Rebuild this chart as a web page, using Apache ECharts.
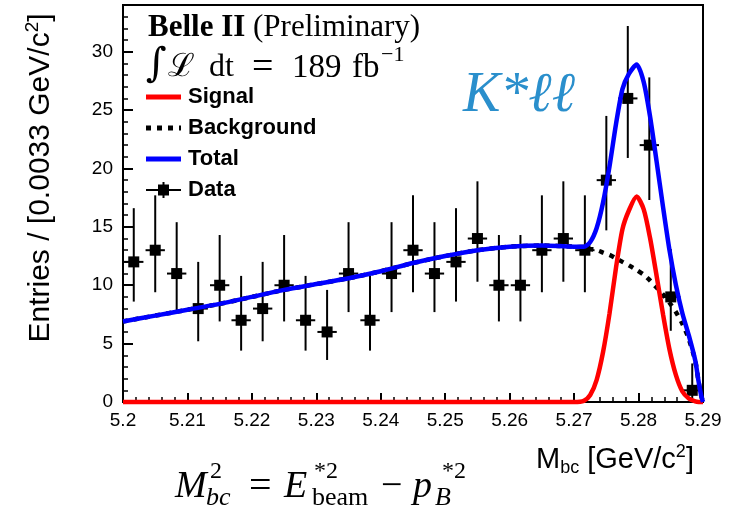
<!DOCTYPE html>
<html><head><meta charset="utf-8">
<script src="https://cdn.jsdelivr.net/npm/echarts@6/dist/echarts.min.js"></script>
<style>html,body{margin:0;padding:0;background:#fff}#c{width:753px;height:509px}</style>
</head><body><div id="c"></div>
<script>
// ---- data ----
const xMin = 5.2, xMax = 5.29, xStep = 0.01;
const yMin = 0, yMax = 34, yStep = 5;
const halfBin = 0.0015;

const binCenters = [5.20167,5.20500,5.20833,5.21167,5.21500,5.21833,5.22167,5.22500,5.22833,5.23167,
  5.23500,5.23833,5.24167,5.24500,5.24833,5.25167,5.25500,5.25833,5.26167,5.26500,
  5.26833,5.27167,5.27500,5.27833,5.28167,5.28500,5.28833];
const counts  = [12,13,11,8,10,7,8,10,7,6,11,7,11,13,11,12,14,10,10,13,14,13,19,26,22,9,1];
const errLow  = [8.6,9.4,7.7,5.2,6.9,4.4,5.2,6.9,4.4,3.6,7.7,4.4,7.7,9.4,7.7,8.6,10.3,6.9,6.9,9.4,10.3,9.4,14.7,20.9,17.3,6.1,0.2];
const errHigh = [16.6,17.7,15.4,12.0,14.3,10.8,12.0,14.3,10.8,9.6,15.4,10.8,15.4,17.7,15.4,16.6,18.9,14.3,14.3,17.7,18.9,17.7,24.5,32.2,27.8,13.1,3.3];

const curveX = [5.200,5.205,5.210,5.215,5.220,5.225,5.230,5.235,5.240,5.245,5.250,5.255,5.260,5.265,5.270,
  5.2715,5.2725,5.2735,5.2745,5.2755,5.2765,5.2775,5.2785,
  5.2797,5.2808,5.2818,5.2828,5.2838,5.2848,5.2858,5.2868,5.2878,5.2888,
  5.2893,5.2897,5.2900];
const backgroundY = [6.9,7.4,7.9,8.4,9.0,9.6,10.1,10.6,11.2,11.9,12.5,13.0,13.3,13.4,13.3,
  13.2,13.1,13.0,12.8,12.6,12.3,12.0,11.7,
  11.3,10.9,10.4,9.8,9.2,8.5,7.7,6.7,5.4,3.5,
  1.8,0.6,0];
const signalY = [0,0,0,0,0,0,0,0,0,0,0,0,0,0,0,
  0.1,0.6,1.9,4.3,7.6,11.5,14.8,16.4,
  17.6,16.5,14.0,10.8,7.5,4.5,2.3,0.9,0.3,0.05,
  0,0,0];
const totalY = [6.9,7.4,7.9,8.4,9.0,9.6,10.1,10.6,11.2,11.9,12.5,13.0,13.3,13.4,13.3,
  13.3,13.7,14.9,17.1,20.2,23.8,26.8,28.1,
  28.9,27.4,24.4,20.6,16.7,13.0,10.0,7.6,5.7,3.55,
  1.8,0.6,0];

const legendNames = ['Signal','Background','Total','Data'];

// ---- chart ----
const SANS = "'Liberation Sans', Arial, sans-serif";
const SERIF = "'Liberation Serif', 'DejaVu Serif', serif";
const pts = ys => curveX.map((x,i)=>[x, ys[i]]);
const dataPts = binCenters.map((x,i)=>[x, counts[i], errLow[i], errHigh[i]]);

const chart = echarts.init(document.getElementById('c'), null, {renderer:'canvas'});

function txt(x,y,text,font,extra){
  return {type:'text', x, y, z:100, style:Object.assign({text, font, fill:'#000', align:'left', verticalAlign:'middle'}, extra||{})};
}

const graphic = [
  // legend
  {type:'line', z:100, shape:{x1:146,y1:97,x2:181,y2:97}, style:{stroke:'#ff0000', lineWidth:5}},
  {type:'line', z:100, shape:{x1:146,y1:128,x2:181,y2:128}, style:{stroke:'#000', lineWidth:5, lineDash:[5,6]}},
  {type:'line', z:100, shape:{x1:146,y1:159,x2:181,y2:159}, style:{stroke:'#0000ff', lineWidth:5}},
  {type:'line', z:100, shape:{x1:146,y1:190,x2:181,y2:190}, style:{stroke:'#000', lineWidth:2}},
  {type:'line', z:100, shape:{x1:163.5,y1:182,x2:163.5,y2:198}, style:{stroke:'#000', lineWidth:2}},
  {type:'rect', z:100, shape:{x:158,y:184.5,width:11,height:11}, style:{fill:'#000'}},
  txt(188,97,legendNames[0],"bold 22px "+SANS),
  txt(188,128,legendNames[1],"bold 22px "+SANS),
  txt(188,159,legendNames[2],"bold 22px "+SANS),
  txt(188,190,legendNames[3],"bold 22px "+SANS),
  // header line 1
  {type:'text', x:148, y:28, z:100, style:{text:'{b|Belle II}{r| (Preliminary)}', align:'left', verticalAlign:'middle',
     rich:{b:{font:"bold 31px "+SERIF, fill:'#000'}, r:{font:"31px "+SERIF, fill:'#000'}}}},
  // header line 2: ∫ ℒ dt = 189 fb^-1
  txt(146,66,'∫',"40px 'DejaVu Serif', serif"),
  txt(168,68,'ℒ',"32px 'DejaVu Serif', serif"),
  txt(209,68,'dt',"32px "+SERIF),
  txt(252,68,'=',"38px "+SERIF),
  txt(292,68,'189',"33px "+SERIF),
  txt(352,68,'fb',"33px "+SERIF),
  txt(381,55,'−1',"22px "+SERIF),
  // K*ll
  {type:'text', x:463, y:96, z:100, style:{text:'K*ℓℓ', font:"italic 56px "+SERIF, fill:'#2a8fcc', align:'left', verticalAlign:'middle'}},
  // y axis title
  {type:'text', x:41, y:178, rotation:Math.PI/2, z:100, style:{text:'{a|Entries / [0.0033 GeV/c}{s|2}{a|]}', align:'center', verticalAlign:'middle',
     rich:{a:{font:"30px "+SANS, fill:'#000', lineHeight:36}, s:{font:"19px "+SANS, fill:'#000', verticalAlign:'top'}}}},
  // x axis title
  {type:'text', x:536, y:460, z:100, style:{text:'{m|M}{b|bc}{m| [GeV/c}{s|2}{m|]}', align:'left', verticalAlign:'middle',
     rich:{m:{font:"29px "+SANS, fill:'#000', lineHeight:34}, b:{font:"18px "+SANS, fill:'#000', verticalAlign:'bottom'}, s:{font:"18px "+SANS, fill:'#000', verticalAlign:'top'}}}},
  // formula
  txt(175,487,'M',"italic 38px "+SERIF),
  txt(210,472,'2',"24px "+SERIF),
  txt(206,498,'bc',"italic 26px "+SERIF),
  txt(249,487,'=',"40px "+SERIF),
  txt(284,487,'E',"italic 38px "+SERIF),
  txt(314,472,'*2',"24px "+SERIF),
  txt(312,498,'beam',"26px "+SERIF),
  txt(381,487,'−',"38px "+SERIF),
  txt(413,487,'p',"italic 38px "+SERIF),
  txt(442,472,'*2',"24px "+SERIF),
  txt(435,498,'B',"italic 26px "+SERIF)
];

const option = {
  animation:false,
  backgroundColor:'#fff',
  grid:{left:123, right:50, top:5, bottom:107, show:true, borderColor:'#000', borderWidth:2, backgroundColor:'transparent'},
  xAxis:{type:'value', min:xMin, max:xMax, interval:xStep,
    axisLine:{show:true, onZero:false, lineStyle:{color:'#000', width:2}},
    axisTick:{show:true, inside:true, length:9, lineStyle:{color:'#000', width:2}},
    minorTick:{show:true, splitNumber:5, length:5, lineStyle:{color:'#000', width:1.5}},
    splitLine:{show:false},
    axisLabel:{color:'#000', fontFamily:'Liberation Sans', fontSize:19, margin:9, formatter:v=>String(+v.toFixed(2))}},
  yAxis:{type:'value', min:yMin, max:yMax, interval:yStep,
    axisLine:{show:true, lineStyle:{color:'#000', width:2}},
    axisTick:{show:true, inside:true, length:10, lineStyle:{color:'#000', width:2}},
    minorTick:{show:true, splitNumber:5, length:5, lineStyle:{color:'#000', width:1.5}},
    splitLine:{show:false},
    axisLabel:{color:'#000', fontFamily:'Liberation Sans', fontSize:19, margin:10, showMaxLabel:false}},
  graphic,
  series:[
    {name:'Data', type:'custom', z:2, data:dataPts, clip:false,
     renderItem:(params, api)=>{
       const x=api.value(0), y=api.value(1), lo=api.value(2), hi=api.value(3);
       const c=api.coord([x,y]), cl=api.coord([x,lo]), ch=api.coord([x,hi]);
       const cL=api.coord([x-halfBin,y]), cR=api.coord([x+halfBin,y]);
       return {type:'group', children:[
         {type:'line', shape:{x1:c[0],y1:ch[1],x2:c[0],y2:cl[1]}, style:{stroke:'#000', lineWidth:2}},
         {type:'line', shape:{x1:cL[0],y1:c[1],x2:cR[0],y2:c[1]}, style:{stroke:'#000', lineWidth:2}},
         {type:'rect', shape:{x:c[0]-5.5,y:c[1]-5.5,width:11,height:11}, style:{fill:'#000'}}
       ]};
     }},
    {name:'Background', type:'line', z:3, data:pts(backgroundY), showSymbol:false, smooth:0.25, clip:false,
     lineStyle:{color:'#000', width:4.5, type:[5,6]}},
    {name:'Signal', type:'line', z:4, data:pts(signalY), showSymbol:false, smooth:0.25, clip:false,
     lineStyle:{color:'#ff0000', width:4.5}},
    {name:'Total', type:'line', z:5, data:pts(totalY), showSymbol:false, smooth:0.25, clip:false,
     lineStyle:{color:'#0000ff', width:4.5}}
  ]
};
chart.setOption(option);
</script></body></html>
